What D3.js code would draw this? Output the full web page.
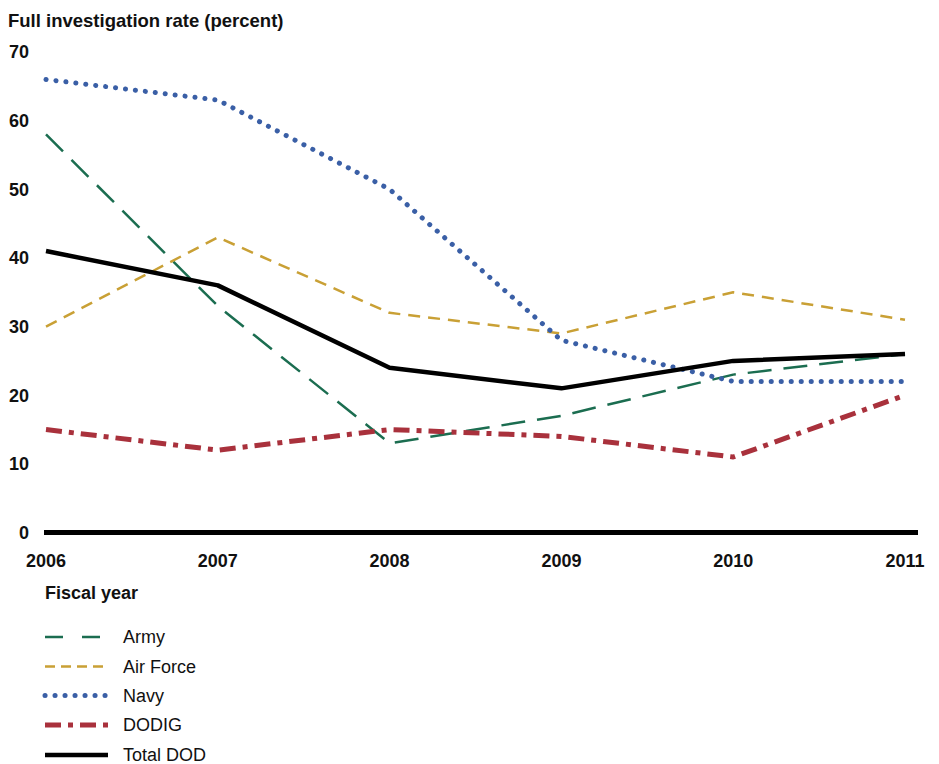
<!DOCTYPE html>
<html><head><meta charset="utf-8">
<script src="https://cdn.jsdelivr.net/npm/d3@7"></script>
<style>body{margin:0;background:#fff;} text{font-family:"Liberation Sans",Arial,sans-serif;}</style>
</head><body>
<svg id="c" width="939" height="764"></svg>
<script>
const years = [2006, 2007, 2008, 2009, 2010, 2011];
const army = [58, 33, 13, 17, 23, 26];
const airForce = [30, 43, 32, 29, 35, 31];
const navy = [66, 63, 50, 28, 22, 22];
const dodig = [15, 12, 15, 14, 11, 20];
const totalDod = [41, 36, 24, 21, 25, 26];
const yTicks = [0, 10, 20, 30, 40, 50, 60, 70];
const seriesNames = ["Army", "Air Force", "Navy", "DODIG", "Total DOD"];

const series = [
  {name: seriesNames[0], values: army, color: "#1b6d50", width: 2.5, dash: "24,12", cap: "butt"},
  {name: seriesNames[1], values: airForce, color: "#c9a035", width: 2.5, dash: "12,8", cap: "butt"},
  {name: seriesNames[2], values: navy, color: "#3a5fa6", width: 5, dash: "0.1,9.9", cap: "round"},
  {name: seriesNames[3], values: dodig, color: "#a9313c", width: 5, dash: "16,7,5,7", cap: "butt"},
  {name: seriesNames[4], values: totalDod, color: "#000000", width: 4.5, dash: null, cap: "butt"}
];

const svg = d3.select("#c");
const x = d3.scaleLinear().domain([2006, 2011]).range([46, 905]);
const y = d3.scaleLinear().domain([0, 70]).range([532.5, 52]);

svg.append("text").attr("x", 8).attr("y", 27).attr("font-size", 18.5).attr("font-weight", "bold")
  .attr("fill", "#111").text("Full investigation rate (percent)");

// y tick labels
svg.append("g").selectAll("text").data(yTicks).join("text")
  .attr("x", 29).attr("y", d => y(d)).attr("dy", "0.35em").attr("text-anchor", "end")
  .attr("font-size", 18).attr("font-weight", "bold").attr("fill", "#111").text(d => d);

// x axis line
svg.append("line").attr("x1", 44).attr("x2", 918).attr("y1", y(0)).attr("y2", y(0))
  .attr("stroke", "#000").attr("stroke-width", 5);

// x tick labels
svg.append("g").selectAll("text").data(years).join("text")
  .attr("x", (d, i) => i === years.length - 1 ? x(d) + 0 : x(d))
  .attr("y", 567).attr("text-anchor", "middle")
  .attr("font-size", 18).attr("font-weight", "bold").attr("fill", "#111").text(d => d);

svg.append("text").attr("x", 45).attr("y", 599).attr("font-size", 18).attr("font-weight", "bold")
  .attr("fill", "#111").text("Fiscal year");

const line = d3.line().x((d, i) => x(years[i])).y(d => y(d));

series.forEach(s => {
  svg.append("path").datum(s.values).attr("d", line).attr("fill", "none")
    .attr("stroke", s.color).attr("stroke-width", s.width)
    .attr("stroke-dasharray", s.dash).attr("stroke-linecap", s.cap).attr("stroke-linejoin", "round");
});

// legend
const legendY = [637, 666.5, 695.5, 725, 755];
const lg = svg.append("g");
series.forEach((s, i) => {
  lg.append("line").attr("x1", 45).attr("x2", 108).attr("y1", legendY[i]).attr("y2", legendY[i])
    .attr("stroke", s.color).attr("stroke-width", s.width)
    .attr("stroke-dasharray", s.name === "Army" ? "18,19" : (s.name === "Air Force" ? "10,6" : s.dash))
    .attr("stroke-linecap", s.cap);
  lg.append("text").attr("x", 123).attr("y", legendY[i]).attr("dy", "0.35em")
    .attr("font-size", 18).attr("fill", "#111").text(s.name);
});
</script>
</body></html>
